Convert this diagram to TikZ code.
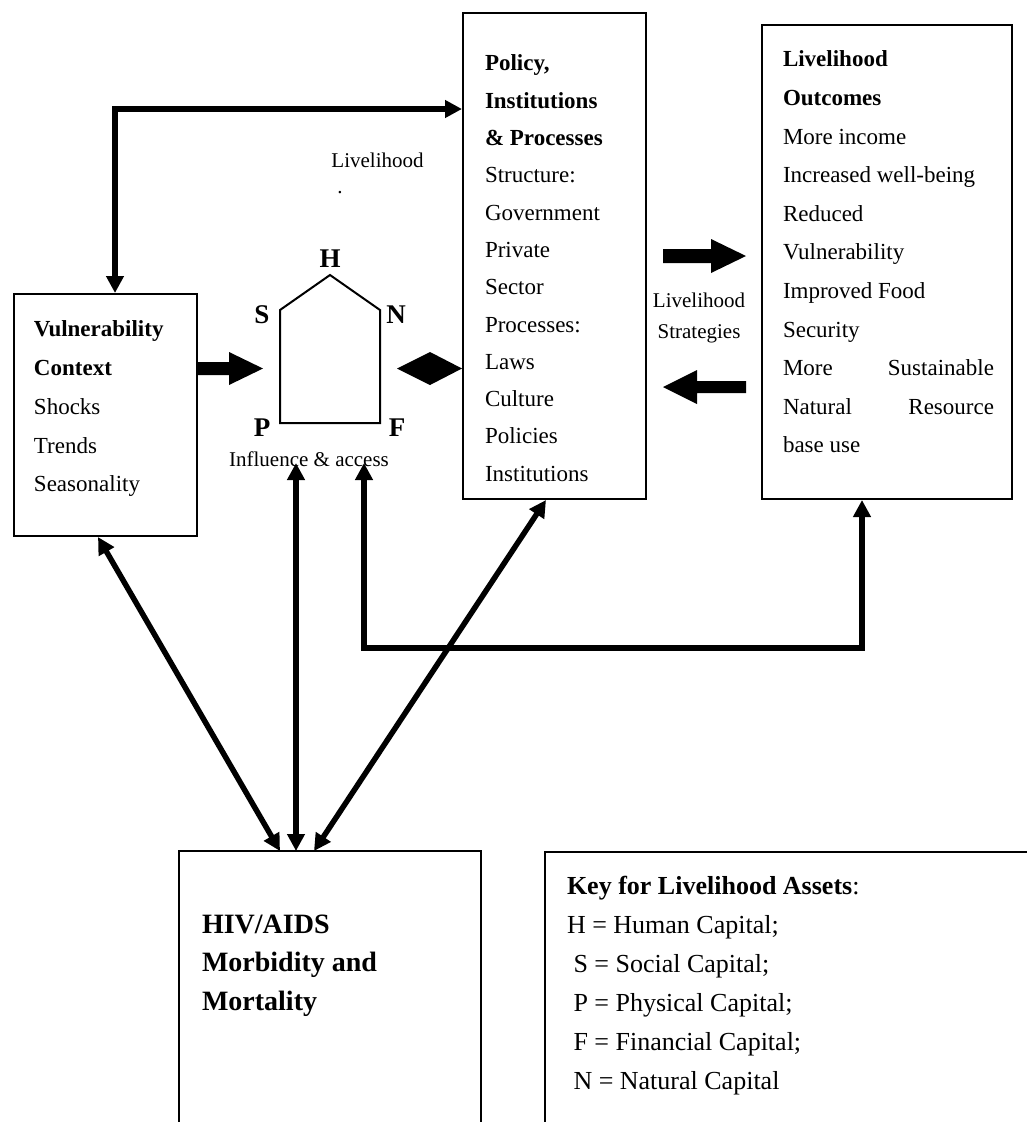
\documentclass[tikz,border=0pt]{standalone}
\usepackage{fontspec}
\setmainfont{Liberation Serif}
\usetikzlibrary{arrows.meta,fit,positioning}

\tikzset{every picture/.style={line width=2pt}}
\tikzset{
	box/.style={draw, line width=2pt, inner sep=0pt},
	frame/.style={inner sep=0pt},
	link/.style={line width=5.5pt, {Triangle[length=17pt,width=17pt]}-{Triangle[length=17pt,width=17pt]}},
	body/.style={anchor=north west, inner sep=0pt, align=left},
	letter/.style={inner sep=0pt, font=\fontsize{27}{27}\selectfont\bfseries},
	small/.style={inner sep=0pt, anchor=base, font=\fontsize{21}{21}\selectfont}
}
\newcommand{\spreadline}[1]{\hbox to 211pt{#1}}

\begin{document}
\begin{tikzpicture}[x=1pt,y=-1pt]
	\useasboundingbox (0,0) rectangle (1027,1122);

	% boxes
	\node (vuln) [box, fit={(14,294) (197,536)}] {};
	\node (policy) [box, fit={(463,13) (646,499)}] {};
	\node (outcome) [box, fit={(762,25) (1012,499)}] {};
	\node (hiv) [frame, fit={(180,852) (480,1122)}] {};
	\node (key) [frame, fit={(546,853) (1027,1122)}] {};
	\draw (hiv.south west) |- (hiv.north east) -- (hiv.south east);
	\draw (key.south west) |- (key.north east);

	% box texts
	\node (vtxt) [body, font=\fontsize{23}{38.7}\selectfont] at (33,320)
		{\textbf{Vulnerability}\\ \textbf{Context}\\ Shocks\\ Trends\\ Seasonality};
	\node (ptxt) [body, font=\fontsize{23}{37.3}\selectfont] at (484,54)
		{\textbf{Policy,}\\ \textbf{Institutions}\\ \textbf{\& Processes}\\ Structure:\\ Government\\ Private\\ Sector\\ Processes:\\ Laws\\ Culture\\ Policies\\ Institutions};
	\node (otxt) [body, font=\fontsize{23}{38.6}\selectfont] at (782,50)
		{\textbf{Livelihood}\\ \textbf{Outcomes}\\ More income\\ Increased well-being\\ Reduced\\ Vulnerability\\ Improved Food\\ Security\\ \spreadline{More\hfill Sustainable}\\ \spreadline{Natural\hfill Resource}\\ base use};
	\node (htxt) [body, font=\fontsize{28}{38.5}\selectfont\bfseries] at (201,913.5)
		{HIV/AIDS\\ Morbidity and\\ Mortality};
	\node (ktxt) [body, font=\fontsize{26}{39}\selectfont] at (566,875)
		{\textbf{Key for Livelihood Assets}:\\ H = Human Capital;\\ \hspace*{6.5pt}S = Social Capital;\\ \hspace*{6.5pt}P = Physical Capital;\\ \hspace*{6.5pt}F = Financial Capital;\\ \hspace*{6.5pt}N = Natural Capital};

	% asset pentagon
	\draw (280,423) -- (280,310) -- (330,275) -- (380,310) -- (380,423) -- cycle;
	\node (h) [letter] at (330,259) {H};
	\node (s) [letter] at (262,315) {S};
	\node (n) [letter] at (396,315) {N};
	\node (p) [letter] at (262,428) {P};
	\node (f) [letter] at (397,428) {F};
	\node (infl) [small] at (309,466) {Influence \& access};

	% small labels
	\node (lvh) [small] at (377.5,167) {Livelihood};
	\node (dot) [small] at (340,193) {.};
	\node (strat1) [small] at (699,307) {Livelihood};
	\node (strat2) [small] at (699,338) {Strategies};

	% block arrows
	\fill (197,362) -- (229,362) -- (229,352) -- (263,368.5) -- (229,385) -- (229,375) -- (197,375) -- cycle;
	\fill (397,368.5) -- (430,352) -- (462,368.5) -- (430,385) -- cycle;
	\fill (663,249) -- (711,249) -- (711,239) -- (746,256) -- (711,273) -- (711,263) -- (663,263) -- cycle;
	\fill (746,381) -- (697,381) -- (697,370) -- (663,387) -- (697,404) -- (697,393) -- (746,393) -- cycle;

	% connectors
	\coordinate (corner) at (115,109);
	\draw[link] (vuln.north -| corner) -- (corner) -- (corner -| policy.west);

	\coordinate (reach) at (296,463);
	\coordinate (back) at (364,463);
	\coordinate (bend) at (364,648);
	\coordinate (rise) at ([xshift=-25pt]outcome.south);
	\draw[link] (back) |- (rise |- bend) -- (rise);

	\draw[link] ([xshift=-7.5pt]vuln.south) -- ([xshift=-50pt]hiv.north);
	\draw[link] ([xshift=-34pt]hiv.north) -- (reach);
	\draw[link] ([xshift=-16pt]hiv.north) -- ([xshift=-8.5pt]policy.south);
\end{tikzpicture}
\end{document}
